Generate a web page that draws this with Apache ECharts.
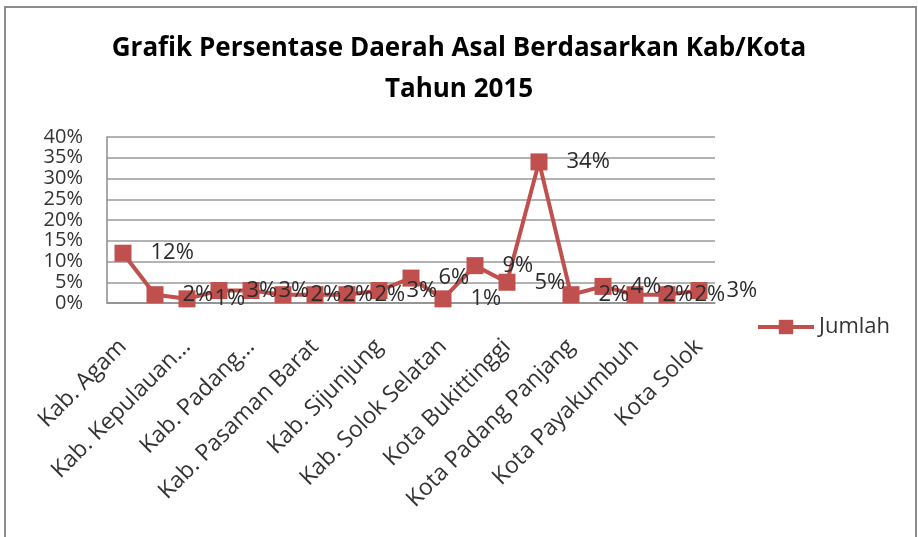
<!DOCTYPE html>
<html>
<head>
<meta charset="utf-8">
<script src="https://cdn.jsdelivr.net/npm/echarts@6/dist/echarts.min.js"></script>
<style>
  html, body { margin: 0; padding: 0; background: #fff; }
  #chart { width: 918px; height: 537px; }
</style>
</head>
<body>
<div id="chart"></div>
<script>
// data
var titleLines = ['Grafik Persentase Daerah Asal Berdasarkan Kab/Kota', 'Tahun 2015'];
var seriesName = 'Jumlah';
var categories = [
    'Kab. Agam', 'Kab. Dharmasraya', 'Kab. Kepulauan Mentawai', 'Kab. Lima Puluh Kota',
    'Kab. Padang Pariaman', 'Kab. Pasaman', 'Kab. Pasaman Barat', 'Kab. Pesisir Selatan',
    'Kab. Sijunjung', 'Kab. Solok', 'Kab. Solok Selatan', 'Kab. Tanah Datar',
    'Kota Bukittinggi', 'Kota Padang', 'Kota Padang Panjang', 'Kota Pariaman',
    'Kota Payakumbuh', 'Kota Sawahlunto', 'Kota Solok'
];
// persen
var values = [12, 2, 1, 3, 3, 2, 2, 2, 3, 6, 1, 9, 5, 34, 2, 4, 2, 2, 3];
var yTicks = [0, 5, 10, 15, 20, 25, 30, 35, 40];

var red = '#C0504D';
var fontName = 'Open Sans';

// label panjang dipotong seperti di Excel
function shortLabel(s) {
    if (s.length < 20) return s;
    var words = s.split(' ');
    var out = words[0];
    for (var i = 1; i < words.length; i++) {
        if ((out + ' ' + words[i]).length > 15) break;
        out += ' ' + words[i];
    }
    return out + '...';
}

var myChart = echarts.init(document.getElementById('chart'));

var option = {
    backgroundColor: '#fff',
    textStyle: { fontFamily: fontName },
    title: {
        text: titleLines.join('\n'),
        left: 'center',
        top: 23,
        textStyle: {
            fontFamily: fontName,
            fontWeight: 'bold',
            fontSize: 26,
            lineHeight: 41,
            color: '#000'
        }
    },
    graphic: [{
        type: 'rect',
        shape: { x: 5, y: 7, width: 911, height: 600 },
        style: { fill: 'none', stroke: '#8c8c8c', lineWidth: 2 },
        silent: true
    }],
    legend: {
        data: [seriesName],
        left: 751,
        top: 311,
        itemWidth: 56,
        itemHeight: 18,
        itemGap: 4,
        lineStyle: { width: 4 },
        textStyle: { fontFamily: fontName, fontSize: 22, color: '#333' }
    },
    grid: {
        left: 107,
        right: 203,
        top: 137,
        bottom: 234
    },
    xAxis: {
        type: 'category',
        data: categories,
        boundaryGap: true,
        axisLine: { lineStyle: { color: '#8c8c8c', width: 1.5 } },
        axisTick: { show: false },
        axisLabel: {
            interval: 1,
            rotate: 45,
            margin: 40,
            fontSize: 23,
            color: '#333',
            fontFamily: fontName,
            formatter: shortLabel
        }
    },
    yAxis: {
        type: 'value',
        min: yTicks[0],
        max: yTicks[yTicks.length - 1],
        interval: yTicks[1] - yTicks[0],
        axisLine: { show: true, lineStyle: { color: '#8c8c8c', width: 1.5 } },
        axisTick: { show: false },
        splitLine: { lineStyle: { color: '#9a9a9a', width: 1.5 } },
        axisLabel: {
            formatter: '{value}%',
            margin: 24,
            fontSize: 20,
            lineHeight: 20,
            color: '#333',
            fontFamily: fontName
        }
    },
    series: [{
        name: seriesName,
        type: 'line',
        data: values,
        symbol: 'rect',
        symbolSize: 17,
        lineStyle: { color: red, width: 4 },
        itemStyle: { color: red },
        label: {
            show: true,
            position: 'right',
            distance: 19,
            formatter: '{c}%',
            fontSize: 22,
            color: '#2b2b2b',
            fontFamily: fontName
        },
        animation: false
    }]
};

myChart.setOption(option);
</script>
</body>
</html>
